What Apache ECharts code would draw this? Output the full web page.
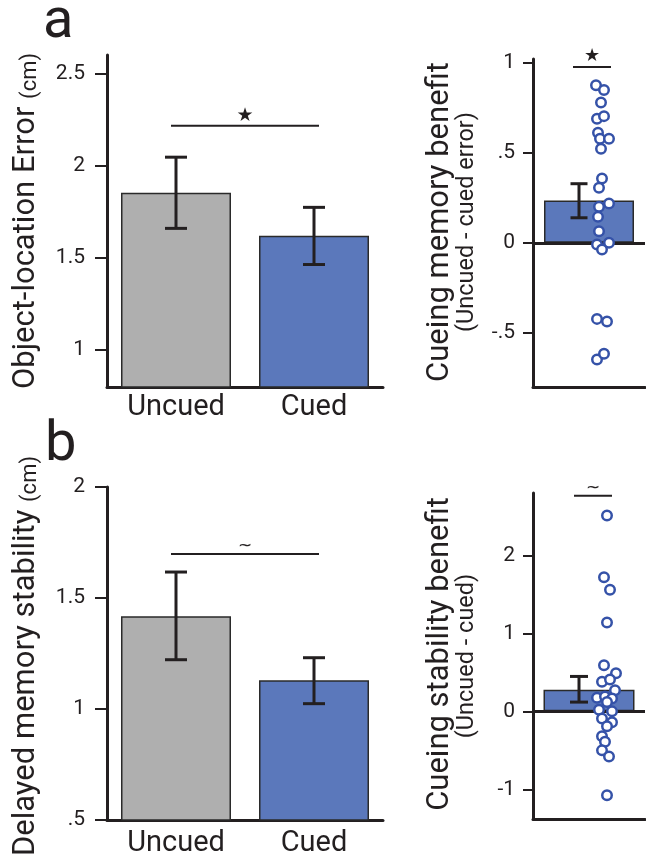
<!DOCTYPE html>
<html>
<head>
<meta charset="utf-8">
<title>Cueing benefit</title>
<script src="https://cdn.jsdelivr.net/npm/echarts@6/dist/echarts.min.js"></script>
<style>
  html, body { margin: 0; padding: 0; background: #fff; }
  #main { width: 646px; height: 858px; }
</style>
</head>
<body>
<div id="main"></div>
<script>
// --- data ---
var groups = ['Uncued', 'Cued'];

// panel a: object-location error (cm)
var errorMean = [1.853, 1.62];
var errorLow  = [1.66, 1.464];
var errorHigh = [2.046, 1.774];
var errorTicks = [1, 1.5, 2, 2.5];
var errorSig = [2.216, '★'];

// panel a: cueing memory benefit (uncued - cued error)
var benefitMean = 0.235, benefitLow = 0.139, benefitHigh = 0.328;
var benefitJitter = [7, 15, 12, 8, 15, 9, 11, 20, 12, 13, 10, 20, 10, 9, 10, 8, 20, 13, 8, 18, 8, 15];
var benefitVals = [0.874, 0.848, 0.778, 0.689, 0.703, 0.611, 0.578, 0.578, 0.522, 0.357, 0.306,
                   0.218, 0.2, 0.144, 0.064, -0.009, 0.0, -0.037, -0.422, -0.436, -0.648, -0.615];
var benefitTicks = [-0.5, 0, 0.5, 1];
var benefitSig = [0.976, '★'];

// panel b: delayed memory stability (cm)
var stabMean = [1.418, 1.129];
var stabLow  = [1.222, 1.024];
var stabHigh = [1.617, 1.231];
var stabTicks = [0.5, 1, 1.5, 2];
var stabSig = [1.698, '~'];

// panel b: cueing stability benefit (uncued - cued)
var stabBenMean = 0.278, stabBenLow = 0.119, stabBenHigh = 0.448;
var stabBenJitter = [18, 15, 21, 18, 15, 27, 13, 21, 26, 8, 16, 23, 18, 10, 23, 13, 23, 18, 13, 16, 13, 20, 18];
var stabBenVals = [2.51, 1.72, 1.56, 1.14, 0.59, 0.49, 0.38, 0.41, 0.27, 0.175, 0.19, 0.165, 0.12,
                   0.02, 0.0, -0.09, -0.14, -0.19, -0.32, -0.39, -0.5, -0.58, -1.075];
var stabBenTicks = [-1, 0, 1, 2];
var stabBenSig = [2.766, '~'];

var INK = '#231f20';
var FONT = 'Roboto, "Noto Sans", sans-serif';
var GREY = '#afafaf', BLUE = '#5b78bb', DOT = '#3552a8';

function fmt(v) {
  var s = String(Math.abs(v)).replace(/^0\./, '.');
  return (v < 0 ? '-' : '') + s;
}

// error bar drawn through the axes; offset/cap are pixel styling
function errRender(offset, cap) {
  return function (params, api) {
    var lo = api.coord([api.value(0), api.value(1)]);
    var hi = api.coord([api.value(0), api.value(2)]);
    var x = lo[0] + offset;
    var st = { stroke: INK, lineWidth: 3 };
    return { type: 'group', children: [
      { type: 'line', shape: { x1: x, y1: lo[1], x2: x, y2: hi[1] }, style: st },
      { type: 'line', shape: { x1: x - cap / 2, y1: lo[1], x2: x + cap / 2, y2: lo[1] }, style: st },
      { type: 'line', shape: { x1: x - cap / 2, y1: hi[1], x2: x + cap / 2, y2: hi[1] }, style: st }
    ]};
  };
}

// significance bracket: data [x0, y, x1]
function sigRender(mark, ext, gap, size) {
  return function (params, api) {
    var p0 = api.coord([api.value(0), api.value(1)]);
    var p1 = api.coord([api.value(2), api.value(1)]);
    var x0 = p0[0] - ext, x1 = p1[0] + ext, y = p0[1];
    return { type: 'group', children: [
      { type: 'line', shape: { x1: x0, y1: y, x2: x1, y2: y }, style: { stroke: INK, lineWidth: 2 } },
      { type: 'text', x: (x0 + x1) / 2, y: y - gap, style: {
          text: mark, fill: INK, fontSize: size, fontFamily: 'DejaVu Sans, sans-serif',
          textAlign: 'center', textVerticalAlign: 'middle' } }
    ]};
  };
}

function pairs(xs, ys) {
  var out = [];
  for (var i = 0; i < ys.length; i++) out.push([xs[i], ys[i]]);
  return out;
}

function valueAxis(grid, min, max, ticks, tickLen, margin) {
  return {
    type: 'value', gridIndex: grid, min: min, max: max,
    splitLine: { show: false },
    axisLine: { show: true, onZero: false, lineStyle: { color: INK, width: 3 } },
    axisTick: { show: true, length: tickLen, customValues: ticks, lineStyle: { color: INK, width: 2 } },
    axisLabel: { customValues: ticks, formatter: fmt, color: INK, fontSize: 21, fontFamily: FONT, margin: margin }
  };
}

function catAxis(grid, cats, showLabel, margin) {
  return {
    type: 'category', gridIndex: grid, data: cats,
    axisLine: { show: true, onZero: false, lineStyle: { color: INK, width: 3 } },
    axisTick: { show: false },
    axisLabel: { show: showLabel, color: INK, fontSize: 29, fontFamily: FONT, margin: margin }
  };
}

var chart = echarts.init(document.getElementById('main'));

chart.setOption({
  animation: false,
  backgroundColor: '#fff',
  grid: [
    { left: 107, top: 55, width: 276, height: 332 },
    { left: 533, top: 59, width: 112, height: 328 },
    { left: 107, top: 487, width: 276, height: 333 },
    { left: 533, top: 493, width: 112, height: 326 }
  ],
  xAxis: [
    catAxis(0, groups, true, 6),
    catAxis(1, [''], false, 0),
    { type: 'value', gridIndex: 1, min: -56, max: 56, show: false },
    catAxis(2, groups, true, 9),
    catAxis(3, [''], false, 0),
    { type: 'value', gridIndex: 3, min: -56, max: 56, show: false }
  ],
  yAxis: [
    valueAxis(0, 0.8, 2.6, errorTicks, 12, 22),
    valueAxis(1, -0.8, 1.02, benefitTicks, 10, 18),
    valueAxis(2, 0.5, 2, stabTicks, 12, 22),
    valueAxis(3, -1.38, 2.8, stabBenTicks, 10, 18)
  ],
  series: [
    // panel a left
    { type: 'bar', xAxisIndex: 0, yAxisIndex: 0, barWidth: 110,
      data: [
        { value: errorMean[0], itemStyle: { color: GREY } },
        { value: errorMean[1], itemStyle: { color: BLUE } }
      ],
      itemStyle: { borderColor: '#2a2a2a', borderWidth: 1.5 } },
    { type: 'custom', xAxisIndex: 0, yAxisIndex: 0, renderItem: errRender(0, 22),
      data: [[0, errorLow[0], errorHigh[0]], [1, errorLow[1], errorHigh[1]]], z: 4 },
    { type: 'custom', xAxisIndex: 0, yAxisIndex: 0, renderItem: sigRender(errorSig[1], 5, 10, 19),
      data: [[0, errorSig[0], 1]], z: 4 },

    // panel a right
    { type: 'bar', xAxisIndex: 1, yAxisIndex: 1, barWidth: 90,
      data: [benefitMean],
      itemStyle: { color: BLUE, borderColor: '#2a2a2a', borderWidth: 1.5 },
      markLine: { silent: true, symbol: 'none', label: { show: false },
        lineStyle: { color: INK, width: 3, type: 'solid' }, data: [{ yAxis: 0 }] } },
    { type: 'custom', xAxisIndex: 1, yAxisIndex: 1, renderItem: errRender(-10, 17),
      data: [[0, benefitLow, benefitHigh]], z: 4 },
    { type: 'scatter', xAxisIndex: 2, yAxisIndex: 1, data: pairs(benefitJitter, benefitVals),
      symbol: 'circle', symbolSize: 9.5, z: 6,
      itemStyle: { color: '#fff', borderColor: DOT, borderWidth: 2.5, opacity: 1 } },
    { type: 'custom', xAxisIndex: 2, yAxisIndex: 1, renderItem: sigRender(benefitSig[1], 0, 11, 18),
      data: [[-16, benefitSig[0], 22]], z: 4 },

    // panel b left
    { type: 'bar', xAxisIndex: 3, yAxisIndex: 2, barWidth: 110,
      data: [
        { value: stabMean[0], itemStyle: { color: GREY } },
        { value: stabMean[1], itemStyle: { color: BLUE } }
      ],
      itemStyle: { borderColor: '#2a2a2a', borderWidth: 1.5 } },
    { type: 'custom', xAxisIndex: 3, yAxisIndex: 2, renderItem: errRender(0, 22),
      data: [[0, stabLow[0], stabHigh[0]], [1, stabLow[1], stabHigh[1]]], z: 4 },
    { type: 'custom', xAxisIndex: 3, yAxisIndex: 2, renderItem: sigRender(stabSig[1], 5, 7, 17),
      data: [[0, stabSig[0], 1]], z: 4 },

    // panel b right
    { type: 'bar', xAxisIndex: 4, yAxisIndex: 3, barWidth: 91,
      data: [stabBenMean],
      itemStyle: { color: BLUE, borderColor: '#2a2a2a', borderWidth: 1.5 },
      markLine: { silent: true, symbol: 'none', label: { show: false },
        lineStyle: { color: INK, width: 3, type: 'solid' }, data: [{ yAxis: 0 }] } },
    { type: 'custom', xAxisIndex: 4, yAxisIndex: 3, renderItem: errRender(-10, 18),
      data: [[0, stabBenLow, stabBenHigh]], z: 4 },
    { type: 'scatter', xAxisIndex: 5, yAxisIndex: 3, data: pairs(stabBenJitter, stabBenVals),
      symbol: 'circle', symbolSize: 9.5, z: 6,
      itemStyle: { color: '#fff', borderColor: DOT, borderWidth: 2.5, opacity: 1 } },
    { type: 'custom', xAxisIndex: 5, yAxisIndex: 3, renderItem: sigRender(stabBenSig[1], 0, 7, 17),
      data: [[-15, stabBenSig[0], 23]], z: 4 }
  ],
  graphic: [
    { type: 'text', x: 43, y: 23, style: { text: 'a', fill: INK, fontSize: 56, fontFamily: FONT, textVerticalAlign: 'middle' } },
    { type: 'text', x: 45, y: 446, style: { text: 'b', fill: INK, fontSize: 56, fontFamily: FONT, textVerticalAlign: 'middle' } },
    { type: 'text', x: 26, y: 221, rotation: Math.PI / 2, style: {
        text: '{m|Object-location Error }{s|(cm)}', fill: INK, fontFamily: FONT,
        textAlign: 'center', textVerticalAlign: 'middle',
        rich: { m: { fontSize: 31, fontFamily: FONT, fill: INK }, s: { fontSize: 22, fontFamily: FONT, fill: INK, verticalAlign: 'bottom' } } } },
    { type: 'text', x: 26, y: 656, rotation: Math.PI / 2, style: {
        text: '{m|Delayed memory stability }{s|(cm)}', fill: INK, fontFamily: FONT,
        textAlign: 'center', textVerticalAlign: 'middle',
        rich: { m: { fontSize: 31, fontFamily: FONT, fill: INK }, s: { fontSize: 22, fontFamily: FONT, fill: INK, verticalAlign: 'bottom' } } } },
    { type: 'text', x: 440, y: 222, rotation: Math.PI / 2, style: {
        text: 'Cueing memory benefit', fill: INK, fontSize: 31, fontFamily: FONT,
        textAlign: 'center', textVerticalAlign: 'middle' } },
    { type: 'text', x: 467, y: 222, rotation: Math.PI / 2, style: {
        text: '(Uncued - cued error)', fill: INK, fontSize: 23.5, fontFamily: FONT,
        textAlign: 'center', textVerticalAlign: 'middle' } },
    { type: 'text', x: 440, y: 654, rotation: Math.PI / 2, style: {
        text: 'Cueing stability benefit', fill: INK, fontSize: 31, fontFamily: FONT,
        textAlign: 'center', textVerticalAlign: 'middle' } },
    { type: 'text', x: 467, y: 656, rotation: Math.PI / 2, style: {
        text: '(Uncued - cued)', fill: INK, fontSize: 23.5, fontFamily: FONT,
        textAlign: 'center', textVerticalAlign: 'middle' } }
  ]
});
</script>
</body>
</html>
